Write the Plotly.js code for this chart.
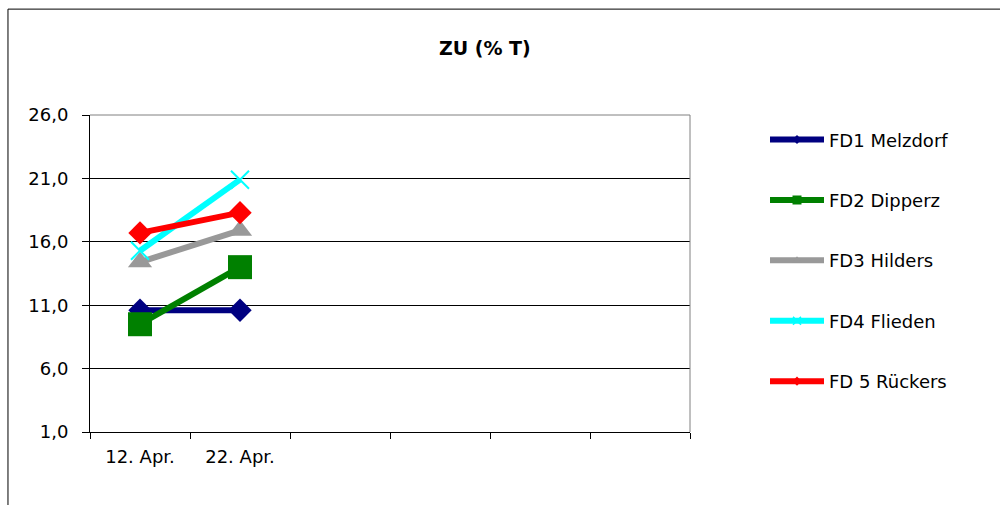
<!DOCTYPE html>
<html>
<head>
<meta charset="utf-8">
<script src="https://cdn.plot.ly/plotly-3.0.1.min.js"></script>
<style>
  html, body { margin: 0; padding: 0; background: #fff; }
  #chart { width: 1000px; height: 505px; }
</style>
</head>
<body>
<div id="chart"></div>
<script>
// categories on the x axis (6 slots, only two used)
var dates = ['12. Apr.', '22. Apr.'];
var emptySlots = [' ', '  ', '   ', '    '];

var seriesNames = ['FD1 Melzdorf', 'FD2 Dipperz', 'FD3 Hilders', 'FD4 Flieden', 'FD 5 Rückers'];
var fd1 = [10.6, 10.6];
var fd2 = [9.5, 14.0];
var fd3 = [14.4, 16.9];
var fd4 = [15.3, 20.9];
var fd5 = [16.7, 18.3];

var colors  = ['#000080', '#008000', '#999999', '#00ffff', '#ff0000'];
var symbols = ['diamond', 'square', 'triangle-up', 'x-thin-open', 'diamond'];
var sizes   = [18, 24, 21, 18, 18];
var legSizes = [7, 9, 8, 8, 7];

var values = [fd1, fd2, fd3, fd4, fd5];
var data = [];
for (var i = 0; i < values.length; i++) {
  var isX = symbols[i] == 'x-thin-open';
  data.push({
    x: dates,
    y: values[i],
    name: seriesNames[i],
    type: 'scatter',
    mode: 'lines+markers',
    showlegend: false,
    line: { color: colors[i], width: 6 },
    marker: {
      color: colors[i],
      symbol: symbols[i],
      size: sizes[i],
      line: { color: colors[i], width: isX ? 2 : 0 }
    }
  });
}
// legend entries with the small Excel-style markers
for (var i = 0; i < values.length; i++) {
  var isX = symbols[i] == 'x-thin-open';
  data.push({
    x: [null],
    y: [null],
    name: seriesNames[i],
    type: 'scatter',
    mode: 'lines+markers',
    legendgroup: 'g' + i,
    hoverinfo: 'skip',
    line: { color: colors[i], width: 6 },
    marker: {
      color: colors[i],
      symbol: symbols[i],
      size: legSizes[i],
      line: { color: colors[i], width: isX ? 1.5 : 0 }
    }
  });
}

var font = 'DejaVu Sans, Verdana, sans-serif';

var layout = {
  width: 1000,
  height: 505,
  margin: { l: 90, r: 310, t: 115, b: 73 },
  paper_bgcolor: '#fff',
  plot_bgcolor: '#fff',
  separators: ',.',
  font: { family: font, size: 18, color: '#000' },
  showlegend: true,
  title: {
    text: '<b>ZU (% T)</b>',
    font: { family: font, size: 19, color: '#000' },
    x: 0.658, xref: 'paper', xanchor: 'center',
    y: 0.905, yref: 'container', yanchor: 'middle'
  },
  xaxis: {
    type: 'category',
    categoryorder: 'array',
    categoryarray: dates.concat(emptySlots),
    range: [-0.5, 5.5],
    tickson: 'boundaries',
    ticks: 'outside',
    ticklen: 6,
    tickcolor: '#000',
    ticklabelstandoff: 8,
    showgrid: false,
    showline: true,
    linecolor: '#000',
    linewidth: 1,
    zeroline: false,
    tickfont: { family: font, size: 18, color: '#000' }
  },
  yaxis: {
    range: [1, 26],
    tick0: 1,
    dtick: 5,
    tickformat: '.1f',
    ticks: 'outside',
    ticklen: 7,
    tickcolor: '#000',
    ticklabelstandoff: 10,
    showgrid: true,
    gridcolor: '#000',
    gridwidth: 1,
    showline: true,
    linecolor: '#000',
    linewidth: 1,
    zeroline: false,
    tickfont: { family: font, size: 18, color: '#000' }
  },
  legend: {
    x: 1.125, xanchor: 'left',
    y: 0.98, yanchor: 'top',
    traceorder: 'grouped',
    tracegroupgap: 34,
    itemwidth: 54,
    font: { family: font, size: 18, color: '#000' },
    bgcolor: 'rgba(0,0,0,0)'
  },
  shapes: [
    // plot area frame (top and right)
    { type: 'line', xref: 'paper', yref: 'paper', x0: 0, x1: 1, y0: 1, y1: 1, line: { color: '#808080', width: 1 } },
    { type: 'line', xref: 'paper', yref: 'paper', x0: 1, x1: 1, y0: 0, y1: 1, line: { color: '#808080', width: 1 } },
    // outer chart frame
    { type: 'line', xref: 'paper', yref: 'paper', x0: -0.1367, x1: 1.6, y0: 1.334, y1: 1.334, line: { color: '#000', width: 1 } },
    { type: 'line', xref: 'paper', yref: 'paper', x0: -0.1367, x1: -0.1367, y0: -0.3, y1: 1.334, line: { color: '#000', width: 1 } }
  ]
};

Plotly.newPlot('chart', data, layout, { displayModeBar: false, staticPlot: true });
</script>
</body>
</html>
